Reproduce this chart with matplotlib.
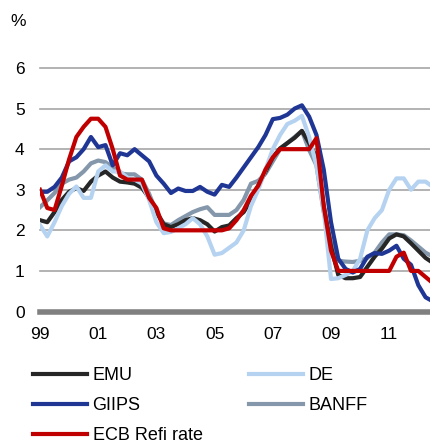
import numpy as np
import matplotlib
matplotlib.use('Agg')
import matplotlib.pyplot as plt

plt.rcParams['font.family'] = ['Liberation Sans', 'DejaVu Sans']

# quarterly observations, 1999Q1 .. 2012Q3
quarters = 1999 + 0.25 * np.arange(55)

emu = [2.25, 2.2, 2.45, 2.75, 2.95, 3.04, 2.97, 3.2, 3.35, 3.45, 3.3, 3.2, 3.18, 3.15,
       3.05, 2.8, 2.45, 2.15, 2.08, 2.15, 2.25, 2.3, 2.25, 2.15, 1.97, 2.08, 2.12, 2.3,
       2.45, 2.75, 3.1, 3.45, 3.8, 4.02, 4.15, 4.28, 4.45, 4.15, 3.8, 2.6, 1.6, 0.9,
       0.82, 0.82, 0.85, 1.1, 1.35, 1.55, 1.8, 1.9, 1.85, 1.68, 1.5, 1.32, 1.2]
de = [2.13, 1.85, 2.2, 2.6, 2.9, 3.08, 2.8, 2.8, 3.45, 3.6, 3.45, 3.45, 3.3, 3.25,
      3.15, 2.75, 2.2, 1.93, 1.96, 2.05, 2.15, 2.3, 2.15, 1.85, 1.4, 1.44, 1.57, 1.7,
      2.0, 2.6, 3.0, 3.5, 4.0, 4.35, 4.62, 4.7, 4.82, 4.3, 3.6, 2.5, 0.8, 0.82,
      0.9, 1.0, 1.3, 2.0, 2.3, 2.5, 3.0, 3.28, 3.28, 3.0, 3.2, 3.2, 3.07]
giips = [2.95, 2.95, 3.07, 3.3, 3.7, 3.8, 4.0, 4.3, 4.05, 4.1, 3.6, 3.9, 3.85, 4.0,
         3.85, 3.7, 3.35, 3.15, 2.92, 3.03, 2.97, 2.97, 3.07, 2.95, 2.88, 3.12, 3.07, 3.3,
         3.55, 3.8, 4.05, 4.35, 4.74, 4.77, 4.85, 5.0, 5.08, 4.8, 4.35, 3.5, 2.2, 1.3,
         1.05, 0.96, 1.05, 1.35, 1.44, 1.42, 1.5, 1.62, 1.3, 1.15, 0.65, 0.35, 0.25]
banff = [2.57, 2.74, 2.92, 3.15, 3.25, 3.3, 3.45, 3.65, 3.72, 3.68, 3.55, 3.4, 3.38, 3.38,
         3.25, 2.9, 2.45, 2.17, 2.13, 2.25, 2.35, 2.45, 2.52, 2.57, 2.38, 2.38, 2.38, 2.5,
         2.75, 3.15, 3.22, 3.4, 3.7, 4.0, 4.15, 4.3, 4.45, 3.98, 3.6, 2.45, 1.7, 1.25,
         1.23, 1.22, 1.25, 1.32, 1.45, 1.7, 1.9, 1.9, 1.88, 1.75, 1.6, 1.45, 1.35]
ecb = [3.0, 2.55, 2.5, 3.1, 3.75, 4.3, 4.55, 4.75, 4.75, 4.55, 4.0, 3.35, 3.25, 3.25,
       3.25, 2.8, 2.55, 2.05, 2.0, 2.0, 2.0, 2.0, 2.0, 2.0, 2.0, 2.0, 2.05, 2.25,
       2.5, 2.85, 3.1, 3.5, 3.8, 4.0, 4.0, 4.0, 4.0, 4.0, 4.27, 2.6, 1.5, 1.0,
       1.0, 1.0, 1.0, 1.0, 1.0, 1.0, 1.0, 1.35, 1.45, 1.0, 1.0, 0.85, 0.7]

tick_years = [1999, 2001, 2003, 2005, 2007, 2009, 2011]
tick_labels = ['99', '01', '03', '05', '07', '09', '11']

fs = 12.5
fig = plt.figure(figsize=(4.31, 4.43), dpi=100)
ax = fig.add_axes([40 / 431, 1 - 311.5 / 443, 391 / 431, (311.5 - 68) / 443])

lw = 3.0
ax.plot(quarters, banff, color='#8497ab', lw=lw, label='BANFF', zorder=3)
ax.plot(quarters, emu, color='#262626', lw=lw, label='EMU', zorder=3)
ax.plot(quarters, de, color='#b5d3f0', lw=lw, label='DE', zorder=3)
ax.plot(quarters, giips, color='#1f3694', lw=lw, label='GIIPS', zorder=3)
ax.plot(quarters, ecb, color='#c00000', lw=lw, label='ECB Refi rate', zorder=4)

ax.set_xlim(1999, 1999 + 391 / 29.1)
ax.set_ylim(0, 6)
ax.set_yticks(range(0, 7))
ax.set_xticks(tick_years)
ax.set_xticklabels(tick_labels)
for y in range(1, 7):
    ax.axhline(y, color='#a6a6a6', lw=1.2, zorder=1, clip_on=False)
ax.axhline(0, color='#808080', lw=4, zorder=2, clip_on=False)

for s in ax.spines.values():
    s.set_visible(False)
ax.tick_params(length=0, labelsize=fs, colors='#000000')
ax.tick_params(axis='y', pad=11)
ax.tick_params(axis='x', pad=11)

fig.text(10 / 431, 1 - 21 / 443, '%', fontsize=fs, va='center', ha='left')

h = {l.get_label(): l for l in ax.get_lines()}
order = ['EMU', 'GIIPS', 'ECB Refi rate', 'DE', 'BANFF']
fig.legend([h[k] for k in order], order, loc='upper left',
           bbox_to_anchor=(33 / 431, 1 - 367 / 443), ncol=2, frameon=False,
           fontsize=13, handlelength=3.0, handletextpad=0.3,
           columnspacing=2.55, labelspacing=0.73, borderaxespad=0, borderpad=0)

fig.savefig('out.png', dpi=100)
